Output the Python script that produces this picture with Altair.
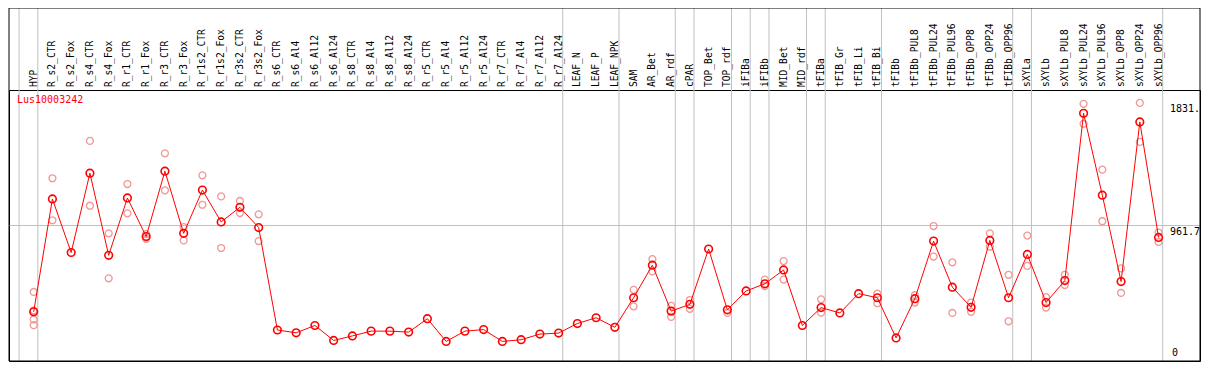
import altair as alt
import pandas as pd

title_text = "Lus10003242"

categories = [
    "HYP", "R_s2_CTR", "R_s2_Fox", "R_s4_CTR", "R_s4_Fox", "R_r1_CTR", "R_r1_Fox",
    "R_r3_CTR", "R_r3_Fox", "R_r1s2_CTR", "R_r1s2_Fox", "R_r3s2_CTR", "R_r3s2_Fox",
    "R_s6_CTR", "R_s6_Al4", "R_s6_Al12", "R_s6_Al24", "R_s8_CTR", "R_s8_Al4",
    "R_s8_Al12", "R_s8_Al24", "R_r5_CTR", "R_r5_Al4", "R_r5_Al12", "R_r5_Al24",
    "R_r7_CTR", "R_r7_Al4", "R_r7_Al12", "R_r7_Al24", "LEAF_N", "LEAF_P", "LEAF_NPK",
    "SAM", "AR_Bet", "AR_rdf", "cPAR", "TOP_Bet", "TOP_rdf", "iFIBa", "iFIBb",
    "MID_Bet", "MID_rdf", "tFIBa", "tFIB_Gr", "tFIB_Li", "tFIB_Bi", "tFIBb",
    "tFIBb_PUL8", "tFIBb_PUL24", "tFIBb_PUL96", "tFIBb_OPP8", "tFIBb_OPP24",
    "tFIBb_OPP96", "sXYLa", "sXYLb", "sXYLb_PUL8", "sXYLb_PUL24", "sXYLb_PUL96",
    "sXYLb_OPP8", "sXYLb_OPP24", "sXYLb_OPP96",
]

means = [
    349, 1150, 770, 1333, 750, 1157, 883, 1347, 906, 1213, 987, 1091, 947,
    220, 200, 252, 146, 178, 212, 212, 205, 300, 139, 212, 223, 139, 151, 191, 198,
    266, 307, 239, 449, 680, 354, 402, 795, 363, 497, 548, 646, 252, 379, 341, 478,
    449, 164, 442, 851, 524, 381, 856, 449, 756, 415, 571, 1758, 1177, 564, 1697, 877,
]

rep_categories = [
    "HYP", "HYP", "HYP", "HYP",
    "R_s2_CTR", "R_s2_CTR", "R_s4_CTR", "R_s4_CTR", "R_s4_Fox", "R_s4_Fox",
    "R_r1_CTR", "R_r1_CTR", "R_r1_Fox", "R_r1_Fox", "R_r3_CTR", "R_r3_CTR",
    "R_r3_Fox", "R_r3_Fox", "R_r1s2_CTR", "R_r1s2_CTR", "R_r1s2_Fox", "R_r1s2_Fox",
    "R_r3s2_CTR", "R_r3s2_CTR", "R_r3s2_Fox", "R_r3s2_Fox",
    "SAM", "SAM", "AR_Bet", "AR_Bet", "AR_rdf", "AR_rdf", "cPAR", "cPAR",
    "TOP_rdf", "iFIBb", "iFIBb", "MID_Bet", "MID_Bet", "tFIBa", "tFIBa",
    "tFIB_Bi", "tFIB_Bi", "tFIBb_PUL8", "tFIBb_PUL8", "tFIBb_PUL24", "tFIBb_PUL24",
    "tFIBb_PUL96", "tFIBb_PUL96", "tFIBb_OPP8", "tFIBb_OPP8", "tFIBb_OPP24",
    "tFIBb_OPP24", "tFIBb_OPP96", "tFIBb_OPP96", "sXYLa", "sXYLa", "sXYLb", "sXYLb",
    "sXYLb_PUL8", "sXYLb_PUL8", "sXYLb_PUL24", "sXYLb_PUL24", "sXYLb_PUL96",
    "sXYLb_PUL96", "sXYLb_OPP8", "sXYLb_OPP8", "sXYLb_OPP24", "sXYLb_OPP24",
    "sXYLb_OPP96", "sXYLb_OPP96",
]
rep_values = [
    490, 358, 295, 254,
    1297, 999, 1562, 1102, 906, 587,
    1256, 1048, 901, 867, 1474, 1211,
    951, 856, 1318, 1109, 1168, 802,
    1136, 1050, 1041, 851,
    505, 388, 723, 636, 392, 313, 433, 370,
    341, 578, 531, 709, 578, 438, 343,
    478, 410, 467, 415, 958, 741,
    700, 341, 415, 349, 906,
    811, 612, 282, 890, 675, 453, 379,
    612, 539, 1825, 1684, 1358,
    992, 657, 483, 1831.8, 1555,
    912, 845,
]

# index of last category in each group (separator lines drawn after them)
group_ends = [-1, 0, 28, 31, 34, 35, 37, 38, 39, 41, 42, 45, 52, 53, 60]

ytick_values = [1831.8, 961.7]
ytick_labels = ["1831.", "961.7"]
zero_value = [0]
zero_label = ["0"]
grid_value = [961.7]

W = 1191
H = 271
HEAD = 82
FONT = "DejaVu Sans Mono"

idx_of = {c: i for i, c in enumerate(categories)}
df_mean = pd.DataFrame({"idx": list(range(len(categories))), "cat": categories, "value": means})
df_rep = pd.DataFrame({"idx": [idx_of[c] for c in rep_categories], "value": rep_values})
df_sep = pd.DataFrame({"pos": [g + 0.22 for g in group_ends]})
df_ytick = pd.DataFrame({"value": ytick_values, "label": ytick_labels})
df_zero = pd.DataFrame({"value": zero_value, "label": zero_label})
df_grid = pd.DataFrame({"value": grid_value})
df_title = pd.DataFrame({"label": [title_text]})

xscale = alt.Scale(domain=[-1.316, 62.21], nice=False, zero=False)
yscale = alt.Scale(domain=[0, 1923.4], nice=False, zero=False)

seps = alt.Chart(df_sep).mark_rule(color="#c0c0c0", strokeWidth=1, clip=False).encode(
    x=alt.X("pos:Q", scale=xscale, axis=None),
    y=alt.value(-HEAD),
    y2=alt.value(H),
)

hgrid = alt.Chart(df_grid).mark_rule(color="#c0c0c0", strokeWidth=1).encode(
    y=alt.Y("value:Q", scale=yscale, axis=None),
    x=alt.value(0),
    x2=alt.value(W),
)

frame = alt.Chart(df_title).mark_rect(fill=None, stroke="black", strokeWidth=1, clip=False).encode(
    x=alt.value(0), x2=alt.value(W), y=alt.value(-HEAD), y2=alt.value(H)
)

labels = alt.Chart(df_mean).mark_text(
    angle=270, align="left", baseline="middle", font=FONT, fontSize=9.6, color="black", clip=False
).encode(
    x=alt.X("idx:Q", scale=xscale, axis=None),
    y=alt.value(-3),
    text="cat:N",
)

reps = alt.Chart(df_rep).mark_point(
    shape="circle", filled=False, color="#f09898", size=48, strokeWidth=1.3, opacity=1
).encode(
    x=alt.X("idx:Q", scale=xscale, axis=None),
    y=alt.Y("value:Q", scale=yscale, axis=None),
)

line = alt.Chart(df_mean).mark_line(color="#ff0000", strokeWidth=1).encode(
    x=alt.X("idx:Q", scale=xscale, axis=None),
    y=alt.Y("value:Q", scale=yscale, axis=None),
)

pts = alt.Chart(df_mean).mark_point(
    shape="circle", filled=False, color="#ff0000", size=58, strokeWidth=1.6, opacity=1
).encode(
    x=alt.X("idx:Q", scale=xscale, axis=None),
    y=alt.Y("value:Q", scale=yscale, axis=None),
)

title = alt.Chart(df_title).mark_text(
    align="left", baseline="alphabetic", font=FONT, fontSize=10, color="#ff0000"
).encode(x=alt.value(8), y=alt.value(13), text="label:N")

yticks = alt.Chart(df_ytick).mark_text(
    align="left", baseline="top", font=FONT, fontSize=10, color="black", dy=1
).encode(
    x=alt.value(1161),
    y=alt.Y("value:Q", scale=yscale, axis=None),
    text="label:N",
)

yzero = alt.Chart(df_zero).mark_text(
    align="left", baseline="bottom", font=FONT, fontSize=10, color="black", dy=-3
).encode(
    x=alt.value(1163),
    y=alt.Y("value:Q", scale=yscale, axis=None),
    text="label:N",
)

chart = alt.layer(
    seps, hgrid, frame, labels, reps, line, pts, title, yticks, yzero
).properties(
    width=W,
    height=H,
    padding={"left": 1, "right": 1, "top": HEAD, "bottom": 1},
    autosize=alt.AutoSizeParams(type="none"),
    background="white",
).configure_view(stroke="black", strokeWidth=1)

chart.save("out.html", embed_options={"renderer": "svg", "actions": False})
